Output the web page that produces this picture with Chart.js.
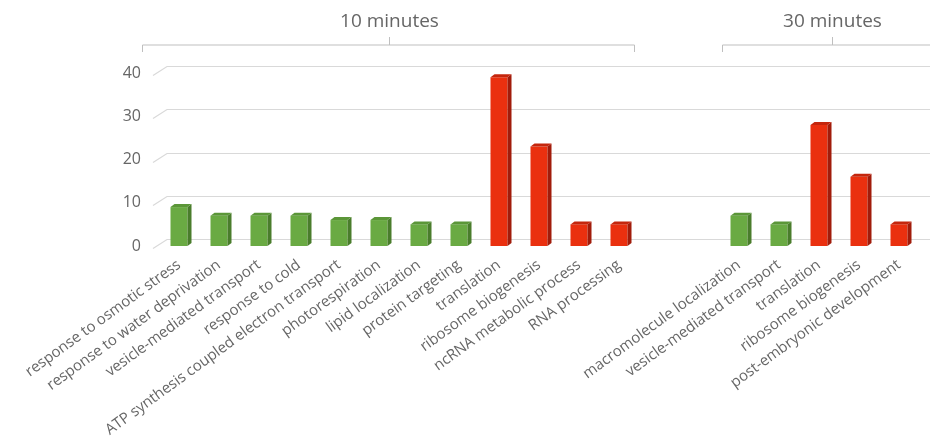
<!DOCTYPE html>
<html>
<head>
<meta charset="utf-8">
<script src="https://cdn.jsdelivr.net/npm/chart.js@4.4.1/dist/chart.umd.min.js"></script>
<style>
  html, body { margin: 0; padding: 0; background: #fff; }
  #wrap { width: 930px; height: 446px; }
</style>
</head>
<body>
<div id="wrap"><canvas id="grafico"></canvas></div>
<script>
// categorias (duas vazias separam os grupos)
const categorias = [
  'response to osmotic stress', 'response to water deprivation', 'vesicle-mediated transport',
  'response to cold', 'ATP synthesis coupled electron transport', 'photorespiration',
  'lipid localization', 'protein targeting', 'translation', 'ribosome biogenesis',
  'ncRNA metabolic process', 'RNA processing', '', '',
  'macromolecule localization', 'vesicle-mediated transport', 'translation',
  'ribosome biogenesis', 'post-embryonic development'
];
const valores = [9, 7, 7, 7, 6, 6, 5, 5, 39, 23, 5, 5, null, null, 7, 5, 28, 16, 5];
const regulacao = ['down', 'down', 'down', 'down', 'down', 'down', 'down', 'down', 'up', 'up', 'up', 'up', '', '',
  'down', 'down', 'up', 'up', 'up'];
const ticksY = [0, 10, 20, 30, 40];
const grupos = [
  { nome: '10 minutes', de: 0, ate: 11 },
  { nome: '30 minutes', de: 14, ate: 18 }
];

const cores = {
  down: { frente: '#6aaa43', lado: '#4a7d2c', topo: '#5b9638' },
  up:   { frente: '#ea300f', lado: '#a11c0b', topo: '#c4260d' }
};

const cinza = '#666666';

// faces laterais e topo das barras (efeito 3D)
const barras3d = {
  id: 'barras3d',
  beforeDatasetsDraw(chart) {
    const { ctx, chartArea, scales: { y } } = chart;
    const dx = 14, dy = 7;
    ctx.save();
    ctx.strokeStyle = '#d9d9d9';
    ctx.lineWidth = 1.2;
    ticksY.forEach(v => {
      const py = Math.round(y.getPixelForValue(v)) + 0.5;
      ctx.beginPath();
      ctx.moveTo(chartArea.left - 6, py + 2);
      ctx.lineTo(chartArea.left + dx - 6, py - dy);
      ctx.lineTo(chart.width, py - dy);
      ctx.stroke();
    });
    ctx.restore();
  },
  afterDatasetsDraw(chart) {
    const { ctx } = chart;
    const meta = chart.getDatasetMeta(0);
    const d = 4, h = 3;
    ctx.save();
    meta.data.forEach((bar, i) => {
      if (valores[i] == null) return;
      const c = cores[regulacao[i]];
      const { x, y, base, width } = bar.getProps(['x', 'y', 'base', 'width'], true);
      const r = x + width / 2, l = x - width / 2;
      ctx.fillStyle = c.lado;
      ctx.beginPath();
      ctx.moveTo(r, y); ctx.lineTo(r + d, y - h); ctx.lineTo(r + d, base - h); ctx.lineTo(r, base);
      ctx.closePath(); ctx.fill();
      ctx.fillStyle = c.topo;
      ctx.beginPath();
      ctx.moveTo(l, y); ctx.lineTo(l + d, y - h); ctx.lineTo(r + d, y - h); ctx.lineTo(r, y);
      ctx.closePath(); ctx.fill();
    });
    ctx.restore();
  },
  afterDraw(chart) {
    const { ctx, scales: { x } } = chart;
    // recuo esquerdo/direito de cada chave, em px
    const recuos = [[-37, 15], [-17, 42]];
    ctx.save();
    ctx.strokeStyle = '#bfbfbf';
    ctx.lineWidth = 1;
    ctx.fillStyle = cinza;
    ctx.font = '19px "Open Sans"';
    ctx.textAlign = 'center';
    ctx.textBaseline = 'middle';
    grupos.forEach((g, k) => {
      const a = Math.round(x.getPixelForValue(g.de) + recuos[k][0]) + 0.5;
      const b = Math.round(x.getPixelForValue(g.ate) + recuos[k][1]) + 0.5;
      const c = Math.round((a + b) / 2) + 0.5;
      ctx.beginPath();
      ctx.moveTo(a, 52); ctx.lineTo(a, 45); ctx.lineTo(b, 45); ctx.lineTo(b, 52);
      ctx.moveTo(c, 45); ctx.lineTo(c, 37);
      ctx.stroke();
      ctx.fillText(g.nome, c, 22);
    });
    ctx.restore();
  }
};

new Chart(document.getElementById('grafico'), {
  type: 'bar',
  data: {
    labels: categorias,
    datasets: [{
      data: valores,
      backgroundColor: regulacao.map(r => r ? cores[r].frente : 'transparent'),
      borderWidth: 0,
      barPercentage: 0.85,
      categoryPercentage: 0.5
    }]
  },
  options: {
    responsive: true,
    maintainAspectRatio: false,
    animation: false,
    layout: { padding: { top: 73, right: 11, left: 0, bottom: 0 } },
    plugins: { legend: { display: false }, tooltip: { enabled: false } },
    scales: {
      x: {
        grid: { display: false },
        border: { display: false },
        ticks: {
          color: cinza,
          font: { family: 'Open Sans', size: 15 },
          autoSkip: false,
          minRotation: 36,
          maxRotation: 36,
          padding: 2
        },
        afterFit(s) { s.height = 200; }
      },
      y: {
        min: 0,
        max: 40,
        grid: { display: false },
        border: { display: false },
        afterBuildTicks(s) { s.ticks = ticksY.map(v => ({ value: v })); },
        ticks: {
          color: cinza,
          font: { family: 'Open Sans', size: 16 },
          padding: 10
        },
        afterFit(s) { s.width = 159; }
      }
    }
  },
  plugins: [barras3d]
});
</script>
</body>
</html>
